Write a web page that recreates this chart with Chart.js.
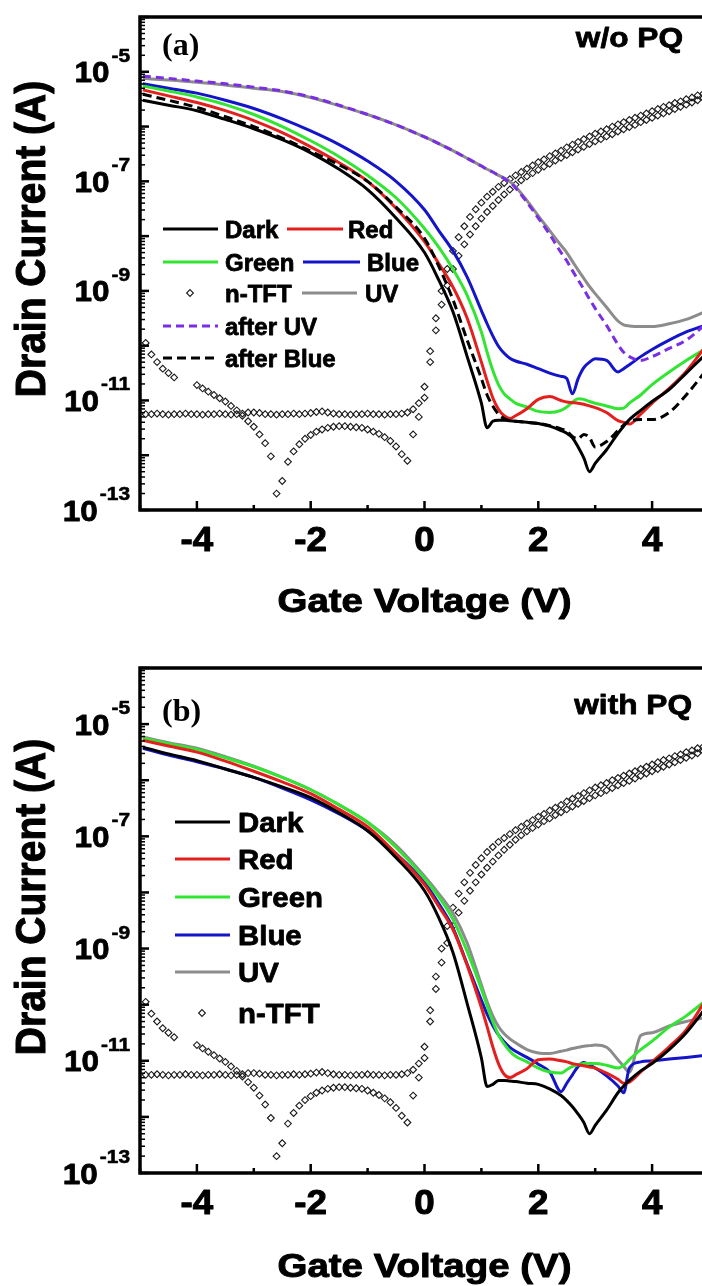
<!DOCTYPE html>
<html>
<head>
<meta charset="utf-8">
<script src="https://cdn.jsdelivr.net/npm/chart.js@4.4.0/dist/chart.umd.min.js"></script>
<style>
  html, body { margin: 0; padding: 0; background: #fff; overflow: hidden; }
  body { width: 702px; height: 1286px; position: relative; }
  canvas { position: absolute; left: 0; }
  #chartA { top: 0; }
  #chartB { top: 640px; }
</style>
</head>
<body>
<canvas id="chartA" width="720" height="640"></canvas>
<canvas id="chartB" width="720" height="646"></canvas>
<script>
// gate voltage grid (V) shared by the light curves; values below are log10 of drain current (A)
const vg = [-4.95, -4.5, -4, -3.5, -3, -2.5, -2, -1.5, -1, -0.5, 0, 0.25, 0.5, 0.75, 1.0, 1.1, 1.2, 1.3, 1.4, 1.5,
            1.6, 1.8, 2.0, 2.2, 2.4, 2.5, 2.6, 2.7, 2.8, 2.9, 3.0, 3.2, 3.4, 3.5, 3.6, 3.8, 4.0, 4.3, 4.6, 4.95];

// (a) w/o PQ
const darkA = [-5.52, -5.61, -5.71, -5.87, -6.04, -6.24, -6.48, -6.78, -7.15, -7.67, -8.30, -8.80, -9.38, -10.2, -11.05, -11.5, -11.38, -11.36, -11.36, -11.37,
               -11.38, -11.4, -11.42, -11.47, -11.55, -11.6, -11.68, -11.85, -12.05, -12.3, -12.15, -11.9, -11.6, -11.47, -11.35, -11.18, -11.02, -10.8, -10.5, -10.15];
const redA = [-5.33, -5.44, -5.56, -5.71, -5.89, -6.11, -6.37, -6.66, -7.0, -7.49, -8.1, -8.5, -8.93, -9.5, -10.3, -10.64, -10.95, -11.16, -11.28, -11.33,
              -11.28, -11.15, -10.98, -10.93, -11.0, -11.03, -11.04, -11.05, -11.07, -11.1, -11.13, -11.22, -11.37, -11.4, -11.43, -11.25, -11.05, -10.78, -10.47, -10.0];
const greenA = [-5.26, -5.35, -5.46, -5.6, -5.78, -6.0, -6.26, -6.55, -6.89, -7.3, -7.86, -8.2, -8.6, -9.08, -9.75, -10.12, -10.45, -10.71, -10.88, -10.97,
                -11.05, -11.12, -11.2, -11.22, -11.18, -11.12, -11.03, -10.97, -10.98, -11.02, -11.05, -11.1, -11.15, -11.14, -11.05, -10.9, -10.71, -10.48, -10.27, -10.05];
const blueA = [-5.22, -5.3, -5.39, -5.52, -5.67, -5.86, -6.08, -6.33, -6.63, -7.0, -7.52, -7.9, -8.27, -8.75, -9.36, -9.6, -9.82, -10.01, -10.14, -10.23,
               -10.28, -10.34, -10.42, -10.5, -10.56, -10.6, -10.88, -10.6, -10.4, -10.3, -10.24, -10.27, -10.48, -10.42, -10.35, -10.2, -10.07, -9.9, -9.75, -9.62];
const uvA = [-5.12, -5.15, -5.19, -5.24, -5.3, -5.36, -5.47, -5.62, -5.78, -5.97, -6.19, -6.31, -6.44, -6.58, -6.72, -6.78, -6.83, -6.89, -6.94, -7.0,
             -7.1, -7.35, -7.63, -7.9, -8.17, -8.3, -8.46, -8.62, -8.77, -8.92, -9.05, -9.3, -9.55, -9.62, -9.64, -9.65, -9.65, -9.6, -9.52, -9.37];
const afterUvA = [-5.08, -5.12, -5.17, -5.22, -5.28, -5.35, -5.46, -5.61, -5.78, -5.97, -6.19, -6.31, -6.44, -6.58, -6.72, -6.78, -6.83, -6.89, -6.95, -7.02,
                  -7.12, -7.38, -7.67, -7.97, -8.3, -8.45, -8.63, -8.8, -8.97, -9.15, -9.32, -9.63, -9.98, -10.12, -10.2, -10.27, -10.2, -10.05, -9.9, -9.6];
const afterBlueA = [-5.41, -5.52, -5.65, -5.82, -6.0, -6.21, -6.45, -6.7, -7.0, -7.47, -8.04, -8.55, -9.16, -9.9, -10.6, -10.9, -11.1, -11.25, -11.33, -11.37,
                    -11.38, -11.4, -11.42, -11.46, -11.52, -11.56, -11.66, -11.7, -11.62, -11.68, -11.85, -11.75, -11.55, -11.45, -11.38, -11.35, -11.35, -11.22, -10.9, -10.45];

// (b) with PQ
const darkB = [-5.41, -5.53, -5.65, -5.8, -5.95, -6.12, -6.31, -6.58, -6.9, -7.38, -7.97, -8.45, -9.07, -9.98, -10.95, -11.46, -11.42, -11.35, -11.35, -11.36,
               -11.37, -11.4, -11.42, -11.5, -11.62, -11.71, -11.82, -11.95, -12.1, -12.3, -12.15, -11.88, -11.57, -11.45, -11.35, -11.18, -11.05, -10.8, -10.5, -10.05];
const redB = [-5.29, -5.39, -5.5, -5.66, -5.84, -6.03, -6.24, -6.52, -6.83, -7.31, -7.86, -8.25, -8.66, -9.3, -10.05, -10.39, -10.75, -11.05, -11.24, -11.3,
              -11.25, -11.14, -10.98, -10.97, -11.0, -11.02, -11.05, -11.07, -11.09, -11.11, -11.13, -11.22, -11.33, -11.4, -11.38, -11.2, -11.02, -10.75, -10.45, -9.9];
const greenB = [-5.25, -5.35, -5.45, -5.6, -5.76, -5.95, -6.17, -6.44, -6.75, -7.2, -7.75, -8.08, -8.48, -9.05, -9.72, -10.02, -10.3, -10.54, -10.7, -10.83,
                -10.92, -11.02, -11.13, -11.2, -11.22, -11.16, -11.1, -11.07, -11.05, -11.05, -11.05, -11.08, -11.13, -11.08, -10.98, -10.8, -10.65, -10.4, -10.2, -9.92];
const blueB = [-5.43, -5.55, -5.67, -5.8, -5.95, -6.14, -6.35, -6.6, -6.9, -7.31, -7.82, -8.2, -8.63, -9.28, -9.92, -10.17, -10.37, -10.54, -10.66, -10.76,
               -10.83, -10.94, -11.06, -11.2, -11.55, -11.4, -11.25, -11.1, -11.03, -11.08, -11.13, -11.27, -11.45, -11.57, -11.13, -11.02, -11.0, -10.97, -10.94, -10.9];
const uvB = [-5.23, -5.33, -5.43, -5.58, -5.75, -5.95, -6.17, -6.44, -6.75, -7.16, -7.71, -8.02, -8.37, -8.9, -9.65, -9.95, -10.2, -10.39, -10.52, -10.61,
             -10.68, -10.8, -10.86, -10.87, -10.83, -10.81, -10.78, -10.76, -10.74, -10.73, -10.72, -10.76, -10.98, -11.1, -11.2, -10.55, -10.5, -10.38, -10.3, -10.23];

// n-TFT reference (same device in both panels), 0.1 V sweep
const vt = [-4.9, -4.8, -4.7, -4.6, -4.5, -4.4, -4.3, -4.2, -4.1, -4.0, -3.9, -3.8, -3.7, -3.6, -3.5, -3.4, -3.3, -3.2, -3.1, -3.0,
            -2.9, -2.8, -2.7, -2.6, -2.5, -2.4, -2.3, -2.2, -2.1, -2.0, -1.9, -1.8, -1.7, -1.6, -1.5, -1.4, -1.3, -1.2, -1.1, -1.0,
            -0.9, -0.8, -0.7, -0.6, -0.5, -0.4, -0.3, -0.2, -0.1, 0.0, 0.1, 0.2, 0.3, 0.4, 0.5, 0.6, 0.7, 0.8, 0.9, 1.0,
            1.1, 1.2, 1.3, 1.4, 1.5, 1.6, 1.7, 1.8, 1.9, 2.0, 2.1, 2.2, 2.3, 2.4, 2.5, 2.6, 2.7, 2.8, 2.9, 3.0,
            3.1, 3.2, 3.3, 3.4, 3.5, 3.6, 3.7, 3.8, 3.9, 4.0, 4.1, 4.2, 4.3, 4.4, 4.5, 4.6, 4.7, 4.8, 4.9];
const nTftFwd = [-11.25, -11.25, -11.24, -11.25, -11.26, -11.25, -11.25, -11.24, -11.25, -11.25, -11.26, -11.25, -11.25, -11.24, -11.25, -11.26, -11.25, -11.24, -11.22, -11.22,
                 -11.23, -11.25, -11.25, -11.26, -11.25, -11.25, -11.24, -11.25, -11.24, -11.23, -11.21, -11.2, -11.22, -11.24, -11.25, -11.25, -11.26, -11.25, -11.25, -11.24,
                 -11.25, -11.25, -11.26, -11.25, -11.25, -11.24, -11.22, -11.16, -11.05, -10.75, -10.1, -9.5, -9.0, -8.6, -8.27, -8.02, -7.82, -7.65, -7.51, -7.39,
                 -7.28, -7.19, -7.1, -7.03, -6.96, -6.89, -6.83, -6.77, -6.71, -6.65, -6.6, -6.54, -6.49, -6.44, -6.38, -6.33, -6.28, -6.23, -6.18, -6.13,
                 -6.09, -6.05, -6.0, -5.96, -5.92, -5.88, -5.84, -5.8, -5.76, -5.72, -5.68, -5.64, -5.61, -5.57, -5.54, -5.5, -5.47, -5.43, -5.4];
const nTftRev = [-9.95, -10.16, -10.3, -10.42, -10.5, -10.58, null, null, null, -10.72, -10.78, -10.84, -10.9, -10.96, -11.02, -11.1, -11.18, -11.28, -11.38, -11.48,
                 -11.62, -11.78, -12.02, -12.7, -12.47, -12.12, -11.93, -11.8, -11.7, -11.63, -11.57, -11.53, -11.5, -11.48, -11.47, -11.47, -11.48, -11.49, -11.5, -11.53,
                 -11.57, -11.61, -11.67, -11.74, -11.84, -11.98, -12.1, -11.62, -11.3, -10.95, -10.3, -9.72, -9.25, -8.9, -8.6, -8.36, -8.15, -7.97, -7.82, -7.68,
                 -7.56, -7.45, -7.34, -7.24, -7.15, -7.06, -6.98, -6.91, -6.85, -6.79, -6.73, -6.68, -6.62, -6.57, -6.52, -6.47, -6.42, -6.37, -6.32, -6.27,
                 -6.23, -6.18, -6.14, -6.09, -6.05, -6.01, -5.97, -5.92, -5.88, -5.84, -5.8, -5.76, -5.72, -5.68, -5.64, -5.6, -5.56, -5.52, -5.48];

const yExpLabels = [-13, -11, -9, -7, -5];
const xTickLabels = [-4, -2, 0, 2, 4];

const FONT = "'Liberation Sans', Arial, sans-serif";
const COL = { dark: '#000000', red: '#e3201e', green: '#33e533', blue: '#1414c8', uv: '#8c8c8c', purple: '#7b2fe3' };

function pts(xs, logs) {
    const out = [];
    xs.forEach((v, i) => { if (logs[i] !== null) out.push({ x: v, y: Math.pow(10, logs[i]) }); });
    return out;
}

function curve(label, logs, color, dash) {
    return {
        label, data: pts(vg, logs), showLine: true, pointRadius: 0, borderColor: color,
        borderWidth: 3, borderDash: dash || [], cubicInterpolationMode: 'monotone'
    };
}

function nTft(label, logs) {
    return {
        label, data: pts(vt, logs), showLine: false, pointStyle: 'rectRot', pointRadius: 3.4,
        pointBorderWidth: 1.1, pointBorderColor: '#1a1a1a', pointBackgroundColor: 'rgba(255,255,255,0)'
    };
}

// bold text, slightly thickened with a thin stroke to match the heavy print face
function text(ctx, s, x, y, o) {
    ctx.save();
    ctx.translate(x, y);
    if (o.rot) ctx.rotate(o.rot);
    ctx.scale(o.sx || 1, o.sy || 1);
    ctx.font = (o.weight || 'bold') + ' ' + o.size + 'px ' + (o.family || FONT);
    ctx.textAlign = o.align || 'left';
    ctx.textBaseline = 'alphabetic';
    ctx.fillStyle = '#000';
    ctx.fillText(s, 0, 0);
    if (o.thick !== 0) {
        ctx.strokeStyle = '#000';
        ctx.lineWidth = o.thick || 0.8;
        ctx.lineJoin = 'round';
        ctx.strokeText(s, 0, 0);
    }
    ctx.restore();
}

function seg(ctx, x1, y1, x2, y2, w) {
    ctx.lineWidth = w;
    ctx.beginPath();
    ctx.moveTo(x1, y1);
    ctx.lineTo(x2, y2);
    ctx.stroke();
}

function diamond(ctx, x, y, r) {
    ctx.lineWidth = 1.1;
    ctx.strokeStyle = '#1a1a1a';
    ctx.beginPath();
    ctx.moveTo(x, y - r); ctx.lineTo(x + r, y); ctx.lineTo(x, y + r); ctx.lineTo(x - r, y); ctx.closePath();
    ctx.stroke();
}

function framePlugin(p) {
    return {
        id: 'frame',
        afterDraw(chart) {
            const { ctx, chartArea: a } = chart;
            const xs = chart.scales.x, ys = chart.scales.y;
            ctx.save();
            ctx.strokeStyle = '#000';
            ctx.lineCap = 'butt';

            // inward ticks
            for (let e = -13; e <= -4; e++) {
                const py = ys.getPixelForValue(Math.pow(10, e));
                seg(ctx, a.left, py, a.left + 9, py, 2.5);
                if (e < -4) {
                    for (let m = 2; m <= 9; m++) {
                        const q = ys.getPixelForValue(m * Math.pow(10, e));
                        seg(ctx, a.left, q, a.left + 5, q, 1.5);
                    }
                }
            }
            for (let v = -5; v <= 5; v++) {
                const px = xs.getPixelForValue(v);
                seg(ctx, px, a.bottom, px, a.bottom - (v % 2 === 0 ? 9 : 5), 2.5);
            }
            ctx.lineWidth = 3.5;
            ctx.strokeRect(a.left, a.top, a.right - a.left, a.bottom - a.top);

            // y tick labels 10^n
            ctx.font = 'bold 19px ' + FONT;
            yExpLabels.forEach(e => {
                const py = ys.getPixelForValue(Math.pow(10, e));
                const exp = String(e);
                const w = ctx.measureText(exp).width * 1.1;
                text(ctx, exp, 130, py - 10, { size: 19, align: 'right', sx: 1.1, thick: 0.6 });
                text(ctx, '10', 130 - w - 2, py + 10.5, { size: 30, align: 'right', sx: 1.05 });
            });

            // x tick labels
            xTickLabels.forEach(v => {
                text(ctx, String(v), xs.getPixelForValue(v), a.bottom + 41, { size: 35, align: 'center', sx: 1.05, thick: 1 });
            });

            // axis titles
            text(ctx, 'Drain Current (A)', 45, p.yTitleY, { size: 39, align: 'center', rot: -Math.PI / 2, sy: 1.07, thick: 1 });
            text(ctx, 'Gate Voltage (V)', (a.left + a.right) / 2, a.bottom + p.xTitleOff, { size: 34, align: 'center', sx: 1.13, thick: 1 });

            // panel tag and condition
            text(ctx, p.tag, 162, p.tagY, { size: 32, family: "'Liberation Serif', 'Times New Roman', serif", thick: 0 });
            text(ctx, p.cond, p.condX, p.condY, { size: 28, align: 'right', sx: 1.13 });

            // legend
            p.legend.forEach(it => {
                if (it.marker) {
                    diamond(ctx, it.x1, it.y, 3.4);
                } else {
                    const ds = chart.data.datasets.find(d => d.label === it.label);
                    ctx.strokeStyle = ds.borderColor;
                    ctx.setLineDash(ds.borderDash || []);
                    seg(ctx, it.x1, it.y, it.x2, it.y, 3);
                    ctx.setLineDash([]);
                }
                text(ctx, it.label, it.tx, it.y + p.legendSize * 0.36, { size: p.legendSize, sx: p.legendSx });
            });
            ctx.restore();
        }
    };
}

function makeChart(id, datasets, pad, p) {
    return new Chart(document.getElementById(id), {
        type: 'scatter',
        data: { datasets },
        options: {
            responsive: false,
            animation: false,
            devicePixelRatio: 1,
            events: [],
            layout: { padding: pad },
            plugins: { legend: { display: false }, tooltip: { enabled: false } },
            scales: {
                x: { type: 'linear', min: -5, max: 5, display: false },
                y: { type: 'logarithmic', min: 1e-13, max: 1e-4, display: false }
            }
        },
        plugins: [framePlugin(p)]
    });
}

makeChart('chartA', [
    curve('after UV', afterUvA, COL.purple, [8, 5]),
    curve('after Blue', afterBlueA, COL.dark, [9, 5]),
    curve('Dark', darkA, COL.dark),
    curve('Red', redA, COL.red),
    curve('Green', greenA, COL.green),
    curve('Blue', blueA, COL.blue),
    curve('UV', uvA, COL.uv),
    nTft('n-TFT', nTftFwd),
    nTft('n-TFT rev', nTftRev)
], { left: 140, right: 11, top: 17, bottom: 130 }, {
    tag: '(a)', tagY: 55, cond: 'w/o PQ', condX: 683, condY: 47,
    yTitleY: 239, xTitleOff: 102, legendSize: 24, legendSx: 1.0,
    legend: [
        { label: 'Dark', x1: 163, x2: 218, y: 229, tx: 225 },
        { label: 'Red', x1: 287, x2: 343, y: 229, tx: 348 },
        { label: 'Green', x1: 163, x2: 218, y: 262, tx: 225 },
        { label: 'Blue', x1: 303, x2: 360, y: 262, tx: 367 },
        { label: 'n-TFT', marker: true, x1: 190, y: 293, tx: 225 },
        { label: 'UV', x1: 302, x2: 357, y: 293, tx: 365 },
        { label: 'after UV', x1: 163, x2: 218, y: 326, tx: 225 },
        { label: 'after Blue', x1: 163, x2: 218, y: 358, tx: 225 }
    ]
});

makeChart('chartB', [
    curve('Dark', darkB, COL.dark),
    curve('Red', redB, COL.red),
    curve('Green', greenB, COL.green),
    curve('Blue', blueB, COL.blue),
    curve('UV', uvB, COL.uv),
    nTft('n-TFT', nTftFwd),
    nTft('n-TFT rev', nTftRev)
], { left: 140, right: 11, top: 28, bottom: 113 }, {
    tag: '(b)', tagY: 81, cond: 'with PQ', condX: 692, condY: 74,
    yTitleY: 257, xTitleOff: 104, legendSize: 28, legendSx: 1.05,
    legend: [
        { label: 'Dark', x1: 175, x2: 230, y: 182, tx: 238 },
        { label: 'Red', x1: 175, x2: 230, y: 219, tx: 238 },
        { label: 'Green', x1: 175, x2: 230, y: 257, tx: 238 },
        { label: 'Blue', x1: 175, x2: 230, y: 295, tx: 238 },
        { label: 'UV', x1: 175, x2: 230, y: 332, tx: 238 },
        { label: 'n-TFT', marker: true, x1: 202, y: 373, tx: 238 }
    ]
});
</script>
</body>
</html>
